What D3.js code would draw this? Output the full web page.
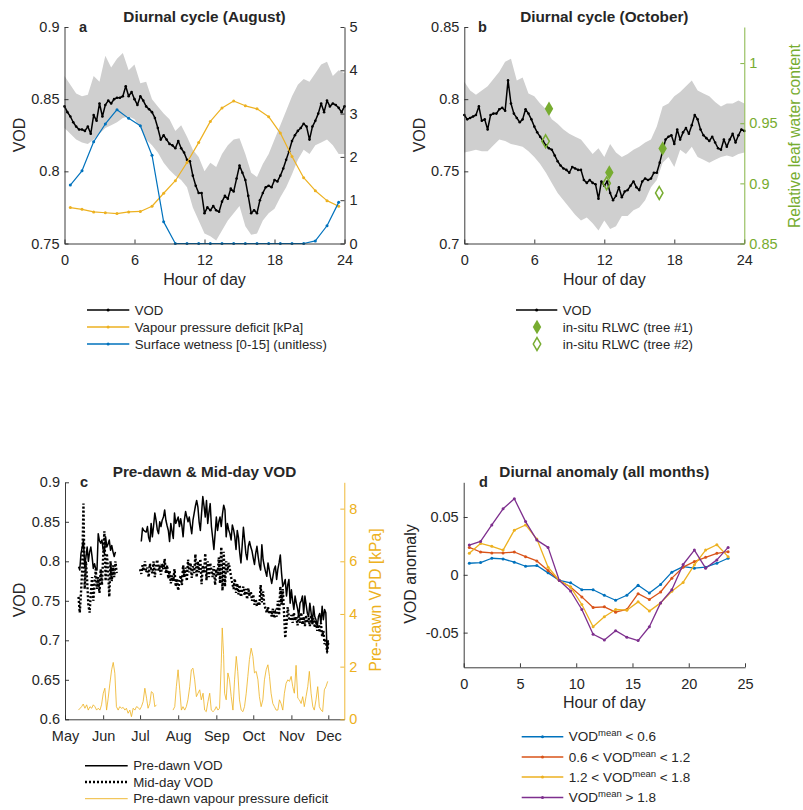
<!DOCTYPE html>
<html>
<head>
<meta charset="utf-8">
<script src="https://cdn.jsdelivr.net/npm/d3@7"></script>
<style>
  body { margin: 0; background: #fff; }
  text { font-family: "Liberation Sans", Arial, Helvetica, sans-serif; }
</style>
</head>
<body>
<script>
// ---------- data: panel a (August diurnal cycle) ----------
var hours15 = d3.range(0, 24.01, 0.25);
var hours30 = d3.range(0, 24.01, 0.5);
var hoursMid = d3.range(0.5, 24, 1);

var augVOD = [0.845,0.841,0.838,0.834,0.831,0.829,0.829,0.828,0.831,0.826,0.839,0.835,0.847,0.838,0.846,0.849,
  0.847,0.850,0.851,0.851,0.852,0.859,0.852,0.855,0.850,0.846,0.852,0.849,0.845,0.843,0.841,0.837,
  0.830,0.822,0.825,0.822,0.819,0.818,0.816,0.821,0.816,0.813,0.808,0.807,0.797,0.790,0.785,0.785,
  0.771,0.775,0.773,0.776,0.773,0.772,0.779,0.783,0.781,0.788,0.786,0.795,0.804,0.799,0.794,0.783,
  0.771,0.773,0.771,0.780,0.785,0.789,0.790,0.789,0.794,0.793,0.797,0.802,0.808,0.814,0.821,0.825,
  0.828,0.830,0.833,0.831,0.822,0.831,0.835,0.840,0.847,0.841,0.849,0.845,0.847,0.846,0.844,0.841,0.845];
var augUpper = [0.866,0.860,0.854,0.852,0.853,0.866,0.862,0.880,0.872,0.878,0.882,0.870,0.874,0.861,0.862,0.850,
  0.845,0.840,0.836,0.828,0.832,0.824,0.815,0.810,0.800,0.806,0.803,0.812,0.818,0.822,0.823,0.812,
  0.799,0.796,0.805,0.812,0.822,0.832,0.842,0.852,0.860,0.864,0.862,0.868,0.874,0.876,0.866,0.870,0.868];
var augLower = [0.830,0.826,0.822,0.820,0.819,0.822,0.826,0.830,0.832,0.834,0.837,0.838,0.836,0.830,0.822,0.818,
  0.813,0.806,0.801,0.797,0.794,0.789,0.775,0.766,0.757,0.755,0.752,0.759,0.766,0.771,0.776,0.762,
  0.756,0.757,0.766,0.771,0.774,0.782,0.789,0.798,0.808,0.815,0.812,0.818,0.820,0.822,0.818,0.812,0.812];
var augVPD = [0.83,0.79,0.73,0.71,0.69,0.73,0.74,0.86,1.16,1.45,1.87,2.33,2.82,3.13,3.29,3.18,3.11,2.93,2.55,2.01,1.52,1.22,0.99,0.86];
var augWet = [1.35,1.68,2.35,2.76,3.09,2.89,2.72,2.04,0.50,0,0,0,0,0,0,0,0,0,0,0,0,0.06,0.41,0.95];

// ---------- data: panel b (October diurnal cycle) ----------
var octVOD = [0.789,0.786,0.787,0.788,0.789,0.795,0.785,0.786,0.779,0.789,0.790,0.790,0.793,0.794,0.792,0.813,
  0.797,0.790,0.787,0.784,0.786,0.793,0.790,0.786,0.781,0.777,0.774,0.771,0.768,0.766,0.765,0.761,
  0.757,0.754,0.752,0.751,0.749,0.753,0.752,0.751,0.751,0.744,0.742,0.744,0.742,0.741,0.731,0.743,
  0.740,0.743,0.735,0.730,0.733,0.739,0.732,0.736,0.737,0.740,0.743,0.739,0.737,0.743,0.745,0.744,
  0.745,0.749,0.749,0.756,0.764,0.772,0.774,0.775,0.769,0.779,0.772,0.777,0.780,0.776,0.782,0.789,
  0.786,0.779,0.775,0.773,0.771,0.774,0.770,0.766,0.765,0.772,0.767,0.772,0.776,0.770,0.775,0.779,0.778];
var octUpper = [0.812,0.806,0.803,0.806,0.809,0.814,0.819,0.826,0.828,0.813,0.815,0.804,0.802,0.797,0.793,0.786,
  0.783,0.779,0.776,0.774,0.772,0.767,0.762,0.766,0.760,0.769,0.763,0.760,0.762,0.765,0.767,0.770,
  0.772,0.781,0.795,0.797,0.802,0.805,0.809,0.813,0.806,0.804,0.802,0.798,0.795,0.797,0.797,0.799,0.797];
var octLower = [0.763,0.764,0.765,0.764,0.764,0.768,0.772,0.771,0.769,0.768,0.767,0.764,0.760,0.755,0.749,0.742,
  0.735,0.730,0.725,0.720,0.716,0.718,0.714,0.709,0.716,0.710,0.712,0.719,0.719,0.723,0.725,0.730,
  0.739,0.744,0.756,0.760,0.753,0.765,0.762,0.767,0.760,0.758,0.756,0.758,0.760,0.761,0.760,0.762,0.763];
var rlwcHours1 = [7.26, 12.43, 17.0];
var rlwcTree1 = [0.962, 0.909, 0.929];
var rlwcHours2 = [6.97, 12.2, 16.71];
var rlwcTree2 = [0.935, 0.900, 0.892];

// ---------- data: panel c (pre-dawn & mid-day, daily) ----------
var predawnStart1 = "2018-05-12";
var predawn1 = [0.793,0.789,0.810,0.818,0.827,0.793,0.805,0.818,0.800,0.812,0.818,0.806,0.791,0.797,0.790,0.789,
  0.835,0.826,0.823,0.827,0.815,0.810,0.831,0.818,0.822,0.827,0.814,0.820,0.812,0.806,0.812];
var predawnStart2 = "2018-07-02";
var predawn2 = [0.825,0.842,0.839,0.838,0.837,0.844,0.830,0.825,0.848,0.831,0.845,0.861,0.852,0.840,0.835,0.850,
  0.844,0.852,0.856,0.865,0.852,0.845,0.839,0.825,0.848,0.838,0.829,0.861,0.848,0.852,0.856,0.844,
  0.854,0.845,0.831,0.852,0.863,0.856,0.850,0.856,0.845,0.835,0.852,0.861,0.870,0.877,0.869,0.850,
  0.839,0.861,0.882,0.870,0.856,0.877,0.848,0.862,0.873,0.844,0.830,0.815,0.835,0.856,0.839,0.850,
  0.856,0.844,0.860,0.871,0.865,0.831,0.848,0.840,0.835,0.827,0.846,0.840,0.831,0.815,0.839,0.830,
  0.811,0.798,0.820,0.843,0.827,0.810,0.802,0.819,0.825,0.818,0.813,0.804,0.796,0.810,0.819,0.806,
  0.795,0.789,0.821,0.802,0.794,0.787,0.781,0.798,0.789,0.780,0.772,0.781,0.790,0.794,0.777,0.790,
  0.798,0.808,0.785,0.768,0.772,0.777,0.756,0.770,0.777,0.747,0.764,0.750,0.739,0.756,0.747,0.740,
  0.730,0.747,0.750,0.756,0.734,0.756,0.745,0.734,0.730,0.747,0.735,0.721,0.743,0.730,0.726,0.717,
  0.730,0.734,0.721,0.743,0.726,0.739,0.735,0.684,0.700];
var middayStart1 = "2018-05-12";
var midday1 = [0.755,0.735,0.760,0.790,0.873,0.765,0.800,0.775,0.745,0.735,0.760,0.780,0.750,0.770,0.790,0.765,
  0.780,0.760,0.790,0.770,0.805,0.838,0.775,0.810,0.790,0.755,0.800,0.775,0.795,0.780,0.800,0.785];
var middayStart2 = "2018-07-01";
var midday2 = [0.790,0.784,0.795,0.788,0.800,0.786,0.792,0.780,0.797,0.790,0.785,0.800,0.780,0.795,0.802,0.788,
  0.792,0.783,0.797,0.790,0.803,0.785,0.795,0.778,0.788,0.772,0.782,0.775,0.790,0.768,0.778,0.763,
  0.775,0.782,0.770,0.795,0.780,0.792,0.775,0.802,0.786,0.798,0.779,0.794,0.785,0.809,0.780,0.800,
  0.786,0.803,0.771,0.795,0.785,0.810,0.776,0.800,0.780,0.798,0.788,0.780,0.794,0.770,0.790,0.782,
  0.805,0.772,0.818,0.763,0.812,0.768,0.800,0.786,0.798,0.790,0.780,0.772,0.765,0.778,0.760,0.772,
  0.758,0.770,0.755,0.762,0.768,0.757,0.765,0.752,0.766,0.756,0.762,0.750,0.758,0.745,0.752,0.743,
  0.749,0.744,0.770,0.748,0.762,0.745,0.740,0.735,0.742,0.733,0.738,0.730,0.740,0.728,0.735,0.730,
  0.750,0.732,0.768,0.745,0.765,0.735,0.703,0.720,0.742,0.728,0.725,0.732,0.722,0.735,0.725,0.730,
  0.719,0.733,0.722,0.735,0.720,0.730,0.718,0.732,0.722,0.728,0.718,0.732,0.721,0.728,0.716,0.725,
  0.712,0.720,0.710,0.722,0.705,0.712,0.695,0.702,0.685,0.698];
// pre-dawn VPD: days since 1 May, kPa
var vpdDays1 = [10.9,13.5,14.8,16.2,17.6,18.9,20.3,21.7,23,24.3,25.7,27,28.4,29.7,31.1,32.4,33.8,35.1,36.5,37.9,
  39.2,40.5,41.8,43.2,44.5,45.9,47.3,48.7,49.9,51.3,52.7,54,55.4,56.8,58.1,59.4,60.8,62.1,63.5,64.9,66.3,67.5,
  68.9,70.2,71.6,73,74.3];
var vpd1 = [0.35,0.48,0.58,0.42,0.55,0.35,0.48,0.42,0.55,0.48,0.35,0.42,0.35,0.55,0.99,1.18,0.35,0.80,1.37,1.88,
  2.16,1.75,0.48,0.35,0.48,0.42,0.45,0.35,0.42,0.23,0.35,0.10,0.42,0.35,0.48,0.45,0.37,0.48,0.67,1.18,0.80,0.42,
  0.60,1.05,0.99,0.48,0.55];
var vpdDays2 = [87.8,89.2,90.5,91.9,93.3,94.6,95.9,97.3,98.6,99.9,101.4,102.7,104,105.4,106.8,108.1,109.5,110.8,
  112.2,113.5,114.8,116.2,117.6,118.9,120.3,121.6,122.9,124.3,125.6,127,127.8,128.9,129.7,131,132.4,133.7,135.1,
  136.5,137.8,139.2,140.4,141.8,143.2,144.6,145.9,147.3,148.6,149.9,151.3,152.7,154,155.4,156.8,158,159.4,160.8,
  162.1,163.5,164.9,166.2,167.5,168.9,170.2,171.6,173,174.3,175.6,177,178.3,179.7,181.1,182.4,183.8,185.1,186.4,
  187.8,189.2,190.5,191.9,193.2,194.5,195.9,197.3,198.6,200,201.4,202.6,204,205.4,206.7,208.1,209.4,210.8,212.1,213.5];
var vpd2 = [0.35,0.48,1.24,1.88,1.10,0.35,0.48,0.35,0.48,0.74,1.24,1.88,1.94,1.50,0.86,0.99,1.12,0.74,
  0.99,0.35,0.29,0.67,0.99,0.35,0.29,0.35,0.48,0.35,0.42,2.13,3.47,2.46,0.99,0.74,1.76,1.50,0.86,
  0.35,1.50,2.39,1.82,0.74,0.35,0.29,0.48,0.99,1.63,2.27,2.70,2.39,1.76,1.82,1.50,0.86,0.48,0.74,
  1.50,1.88,2.07,1.63,0.99,0.60,0.48,0.35,0.35,0.74,0.60,0.35,0.99,1.37,1.50,1.44,1.63,1.24,0.99,
  2.05,0.80,0.74,0.60,0.86,0.48,0.86,1.24,1.82,0.99,0.48,0.35,0.74,1.24,0.48,0.35,0.29,1.12,1.24,1.44];
var monthTicks = ["2018-05-01","2018-06-01","2018-07-01","2018-08-01","2018-09-01","2018-10-01","2018-11-01","2018-12-01"];

// ---------- data: panel d (diurnal anomaly) ----------
var anomLow = [0.010,0.0106,0.0143,0.0137,0.0109,0.0074,0.008,0.0017,-0.0049,-0.0069,-0.0129,-0.0129,
  -0.0177,-0.022,-0.0177,-0.0091,-0.0157,-0.0083,0.0023,0.0071,0.0057,0.0066,0.010,0.0143];
var anomMid = [0.0237,0.0197,0.0189,0.0189,0.0197,0.0157,0.012,0.0037,-0.0049,-0.0106,-0.0191,-0.0283,
  -0.0277,-0.0323,-0.030,-0.0163,-0.0214,-0.0149,-0.0029,0.0066,0.0114,0.0151,0.0186,0.020];
var anomHigh = [0.0186,0.0271,0.0246,0.0214,0.0386,0.0431,0.0309,0.0066,-0.0049,-0.0106,-0.0257,-0.0449,
  -0.0363,-0.030,-0.0306,-0.0234,-0.0314,-0.0243,-0.0143,-0.0066,0.0086,0.0214,0.026,0.0157];
var anomTop = [0.0257,0.0289,0.0431,0.0571,0.0657,0.046,0.030,0.0237,-0.0049,-0.014,-0.030,-0.0514,
  -0.0563,-0.0483,-0.054,-0.0569,-0.0449,-0.0243,-0.0129,0.0089,0.0214,0.0057,0.0129,0.0237];

// ---------- setup ----------
var FONT = '"Liberation Sans", Arial, Helvetica, sans-serif';
var AX = "#262626";
var BLUE = "#0072BD", RED = "#D95319", YEL = "#EDB120", PUR = "#7E2F8E", GRN = "#77AC30";
var parse = d3.timeParse("%Y-%m-%d");

var svg = d3.select("body").append("svg")
  .attr("width", 803)
  .attr("height", 810);

function styleAxis(sel, color) {
  sel.attr("font-family", FONT).attr("font-size", 14.5);
  sel.select("path.domain").attr("stroke", color).attr("stroke-width", 0.9);
  sel.selectAll(".tick line").attr("stroke", color).attr("stroke-width", 0.9);
  sel.selectAll(".tick text").attr("fill", color);
}

function bottomAxis(scale, y, vals, fmt) {
  var a = d3.axisBottom(scale).tickValues(vals).tickSizeInner(-4).tickSizeOuter(0).tickPadding(11);
  if (fmt) a.tickFormat(fmt);
  svg.append("g").attr("transform", `translate(0,${y})`).call(a).call(styleAxis, AX);
}
function leftAxis(scale, x, vals, fmt) {
  var a = d3.axisLeft(scale).tickValues(vals).tickSizeInner(-4).tickSizeOuter(0).tickPadding(5);
  a.tickFormat(fmt || (d => String(d)));
  svg.append("g").attr("transform", `translate(${x},0)`).call(a).call(styleAxis, AX);
}
function rightAxis(scale, x, vals, color) {
  var a = d3.axisRight(scale).tickValues(vals).tickSizeInner(-4).tickSizeOuter(0).tickPadding(5)
    .tickFormat(d => String(d));
  svg.append("g").attr("transform", `translate(${x},0)`).call(a).call(styleAxis, color);
}

function label(x, y, txt, opts) {
  opts = opts || {};
  var t = svg.append("text")
    .attr("x", x).attr("y", y)
    .attr("text-anchor", opts.anchor || "middle")
    .attr("font-size", opts.size || 16)
    .attr("font-weight", opts.bold ? "bold" : "normal")
    .attr("fill", opts.color || AX)
    .text(txt);
  if (opts.rotate) t.attr("transform", `rotate(-90,${x},${y})`);
  return t;
}

function lineWithDots(xs, ys, xScale, yScale, color, w, r) {
  var pts = xs.map((h, i) => [xScale(h), yScale(ys[i])]);
  svg.append("path")
    .attr("d", d3.line()(pts))
    .attr("fill", "none").attr("stroke", color).attr("stroke-width", w)
    .attr("stroke-linejoin", "round");
  svg.append("g").selectAll("circle").data(pts).enter().append("circle")
    .attr("cx", d => d[0]).attr("cy", d => d[1]).attr("r", r).attr("fill", color);
}

function legendRow(x0, x1, y, color, txt, opts) {
  opts = opts || {};
  if (!opts.noLine) {
    var ln = svg.append("line").attr("x1", x0).attr("x2", x1).attr("y1", y).attr("y2", y)
      .attr("stroke", color).attr("stroke-width", opts.w || 1.5);
    if (opts.dash) ln.attr("stroke-dasharray", opts.dash);
    if (opts.dot) svg.append("circle").attr("cx", (x0 + x1) / 2).attr("cy", y).attr("r", 1.5).attr("fill", color);
  }
  return svg.append("text").attr("x", x1 + 5.5).attr("y", y + 4.7)
    .attr("font-size", opts.size || 13.2).attr("fill", AX).text(txt);
}

// ---------- panel a ----------
var xA = d3.scaleLinear().domain([0, 24]).range([64.5, 344.5]);
var yA = d3.scaleLinear().domain([0.75, 0.9]).range([243.5, 27]);
var yA2 = d3.scaleLinear().domain([0, 5]).range([243.5, 27]);

svg.append("path")
  .attr("d", d3.area().x((d, i) => xA(hours30[i])).y0((d, i) => yA(augLower[i])).y1((d, i) => yA(augUpper[i]))(augUpper))
  .attr("fill", "#cfcfcf");
lineWithDots(hours15, augVOD, xA, yA, "#000", 1.5, 1.3);
lineWithDots(hoursMid, augVPD, xA, yA2, YEL, 1.2, 1.5);
lineWithDots(hoursMid, augWet, xA, yA2, BLUE, 1.2, 1.5);

bottomAxis(xA, 243.5, [0, 6, 12, 18, 24]);
leftAxis(yA, 64.5, [0.75, 0.8, 0.85, 0.9]);
rightAxis(yA2, 344.5, [0, 1, 2, 3, 4, 5], AX);

label(204.5, 21.5, "Diurnal cycle (August)", { size: 15.3, bold: true });
label(79, 31.7, "a", { size: 14.5, bold: true, anchor: "start" });
label(204.5, 284.5, "Hour of day");
label(24.5, 135, "VOD", { rotate: true });

legendRow(87, 129.3, 310, "#000", "VOD", { dot: true });
legendRow(87, 129.3, 327, YEL, "Vapour pressure deficit [kPa]", { dot: true });
legendRow(87, 129.3, 344, BLUE, "Surface wetness [0-15] (unitless)", { dot: true });

// ---------- panel b ----------
var xB = d3.scaleLinear().domain([0, 24]).range([464.3, 744.3]);
var yB = d3.scaleLinear().domain([0.7, 0.85]).range([243.5, 27]);
var yB2 = d3.scaleLinear().domain([0.85, 1.03]).range([243.5, 27]);

svg.append("path")
  .attr("d", d3.area().x((d, i) => xB(hours30[i])).y0((d, i) => yB(octLower[i])).y1((d, i) => yB(octUpper[i]))(octUpper))
  .attr("fill", "#cfcfcf");
lineWithDots(hours15, octVOD, xB, yB, "#000", 1.5, 1.3);

var diamond = d3.symbol().type(d3.symbolDiamond).size(62);
var openDiamond = d3.symbol().type(d3.symbolDiamond).size(48);
svg.append("g").selectAll("path").data(rlwcTree1).enter().append("path")
  .attr("d", diamond)
  .attr("transform", (d, i) => `translate(${xB(rlwcHours1[i])},${yB2(d)})`)
  .attr("fill", GRN);
svg.append("g").selectAll("path").data(rlwcTree2).enter().append("path")
  .attr("d", openDiamond)
  .attr("transform", (d, i) => `translate(${xB(rlwcHours2[i])},${yB2(d)})`)
  .attr("fill", "none").attr("stroke", GRN).attr("stroke-width", 1.5);

bottomAxis(xB, 243.5, [0, 6, 12, 18, 24]);
leftAxis(yB, 464.3, [0.7, 0.75, 0.8, 0.85]);
rightAxis(yB2, 744.3, [0.85, 0.9, 0.95, 1], GRN);

label(604.3, 21.5, "Diurnal cycle (October)", { size: 15.3, bold: true });
label(478, 31.7, "b", { size: 14.5, bold: true, anchor: "start" });
label(604.3, 284.5, "Hour of day");
label(425, 135, "VOD", { rotate: true });
label(800, 136, "Relative leaf water content", { rotate: true, color: GRN, size: 15.6 });

legendRow(516, 557.3, 310, "#000", "VOD", { dot: true });
svg.append("path").attr("d", diamond).attr("transform", "translate(537,327)").attr("fill", GRN);
legendRow(516, 557.3, 327, GRN, "in-situ RLWC (tree #1)", { noLine: true });
svg.append("path").attr("d", openDiamond).attr("transform", "translate(537,344)")
  .attr("fill", "none").attr("stroke", GRN).attr("stroke-width", 1.5);
legendRow(516, 557.3, 344, GRN, "in-situ RLWC (tree #2)", { noLine: true });

// ---------- panel c ----------
var xC = d3.scaleTime().domain([parse("2018-05-01"), parse("2018-12-14")]).range([65, 344.3]);
var yC = d3.scaleLinear().domain([0.6, 0.9]).range([719.3, 482.3]);
var yC2 = d3.scaleLinear().domain([0, 9]).range([719.3, 482.3]);

function dailyPath(start, vals) {
  var s = parse(start);
  return d3.line()
    .x((d, i) => xC(d3.timeDay.offset(s, i)))
    .y(d => yC(d))(vals);
}
function vpdPath(days, vals) {
  var s = parse("2018-05-01");
  return d3.line()
    .x((d, i) => xC(new Date(s.getTime() + days[i] * 864e5)))
    .y(d => yC2(d))(vals);
}

[[vpdDays1, vpd1], [vpdDays2, vpd2]].forEach(function (s) {
  svg.append("path").attr("d", vpdPath(s[0], s[1]))
    .attr("fill", "none").attr("stroke", YEL).attr("stroke-width", 0.8);
});
[[predawnStart1, predawn1], [predawnStart2, predawn2]].forEach(function (s) {
  svg.append("path").attr("d", dailyPath(s[0], s[1]))
    .attr("fill", "none").attr("stroke", "#000").attr("stroke-width", 1.5).attr("stroke-linejoin", "round");
});
[[middayStart1, midday1], [middayStart2, midday2]].forEach(function (s) {
  svg.append("path").attr("d", dailyPath(s[0], s[1]))
    .attr("fill", "none").attr("stroke", "#000").attr("stroke-width", 2.4)
    .attr("stroke-dasharray", "2,2");
});

bottomAxis(xC, 719.3, monthTicks.map(parse), d3.timeFormat("%b"));
leftAxis(yC, 65, [0.6, 0.65, 0.7, 0.75, 0.8, 0.85, 0.9]);
rightAxis(yC2, 344.3, [0, 2, 4, 6, 8], YEL);

label(204.5, 476.5, "Pre-dawn & Mid-day VOD", { size: 15.3, bold: true });
label(80, 486.7, "c", { size: 14.5, bold: true, anchor: "start" });
label(25, 600, "VOD", { rotate: true });
label(380.5, 600, "Pre-dawn VPD [kPa]", { rotate: true, color: YEL, size: 15.6 });

legendRow(85, 127.7, 765.7, "#000", "Pre-dawn VOD", { size: 13.3 });
legendRow(85, 127.7, 782, "#000", "Mid-day VOD", { size: 13.3, w: 2.4, dash: "2,2" });
legendRow(85, 127.7, 798.7, YEL, "Pre-dawn vapour pressure deficit", { size: 13.3, w: 0.9 });

// ---------- panel d ----------
var xD = d3.scaleLinear().domain([0, 25]).range([463.7, 745]);
var yD = d3.scaleLinear().domain([-0.08, 0.08]).range([667.3, 482.3]);

lineWithDots(hoursMid, anomLow, xD, yD, BLUE, 1.3, 1.5);
lineWithDots(hoursMid, anomMid, xD, yD, RED, 1.3, 1.5);
lineWithDots(hoursMid, anomHigh, xD, yD, YEL, 1.3, 1.5);
lineWithDots(hoursMid, anomTop, xD, yD, PUR, 1.3, 1.5);

bottomAxis(xD, 667.3, [0, 5, 10, 15, 20, 25]);
leftAxis(yD, 463.7, [-0.05, 0, 0.05]);

label(604.3, 476.5, "Diurnal anomaly (all months)", { size: 15.3, bold: true });
label(479, 486.7, "d", { size: 14.5, bold: true, anchor: "start" });
label(604.3, 708, "Hour of day");
label(415.5, 574, "VOD anomaly", { rotate: true });

var dLegend = [
  [BLUE, "", " < 0.6"],
  [RED, "0.6 < ", " < 1.2"],
  [YEL, "1.2 < ", " < 1.8"],
  [PUR, "", " > 1.8"]
];
var dRows = [736.7, 757, 777, 797.5];
dLegend.forEach(function (r, i) {
  var t = legendRow(521.7, 563.3, dRows[i], r[0], "", { dot: true, size: 13.5 });
  t.append("tspan").text(r[1] + "VOD");
  t.append("tspan").attr("dy", -5).attr("font-size", 9.5).text("mean");
  t.append("tspan").attr("dy", 5).text(r[2]);
});
</script>
</body>
</html>
